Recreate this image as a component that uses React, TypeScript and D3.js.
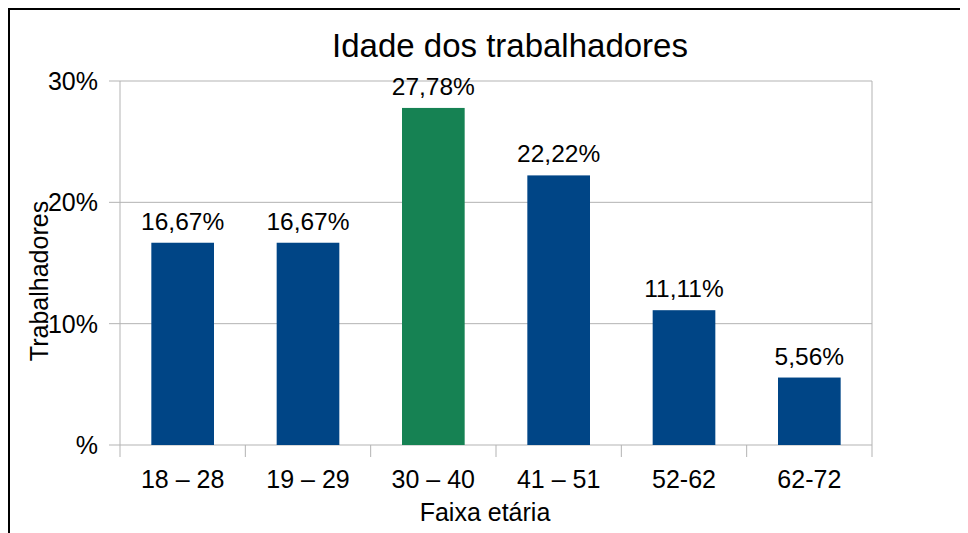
import React from "react";
import * as d3 from "d3";

const categories = ["18 – 28", "19 – 29", "30 – 40", "41 – 51", "52-62", "62-72"];
const values = [16.67, 16.67, 27.78, 22.22, 11.11, 5.56];
const labels = ["16,67%", "16,67%", "27,78%", "22,22%", "11,11%", "5,56%"];
const barColors = ["#004586", "#004586", "#168253", "#004586", "#004586", "#004586"];
const yTicks = [0, 10, 20, 30];
const yTickLabels = ["%", "10%", "20%", "30%"];

const W = 960;
const H = 525;
const plot = { left: 112, right: 864, top: 73, bottom: 437 };
const FONT = "'Liberation Sans', Arial, sans-serif";

export default function App() {
  const x = d3
    .scaleBand<string>()
    .domain(categories)
    .range([plot.left, plot.right])
    .paddingInner(0.5)
    .paddingOuter(0.25);
  const y = d3.scaleLinear().domain([0, 30]).range([plot.bottom, plot.top]);
  const step = x.step();
  const boundaries = d3.range(categories.length + 1).map((i) => plot.left + i * step);

  return (
    <svg width={W} height={H} style={{ display: "block", overflow: "hidden" }} fontFamily={FONT}>
      <rect x={0} y={0} width={W} height={H} fill="#fff" />
      <rect x={1} y={1} width={W + 20} height={H + 20} fill="none" stroke="#000" strokeWidth={2} />
      {/* grid */}
      {yTicks.map((t) => (
        <line key={"g" + t} x1={plot.left - 11} x2={plot.right} y1={y(t)} y2={y(t)} stroke="#b3b3b3" strokeWidth={1} />
      ))}
      <line x1={plot.left} x2={plot.left} y1={plot.top} y2={plot.bottom} stroke="#b3b3b3" />
      <line x1={plot.right} x2={plot.right} y1={plot.top} y2={plot.bottom} stroke="#b3b3b3" />
      {boundaries.map((b, i) => (
        <line key={"b" + i} x1={b} x2={b} y1={plot.bottom} y2={plot.bottom + 12} stroke="#b3b3b3" />
      ))}
      {/* bars */}
      {categories.map((c, i) => (
        <rect
          key={c}
          x={x(c)}
          y={y(values[i])}
          width={x.bandwidth()}
          height={plot.bottom - y(values[i])}
          fill={barColors[i]}
        />
      ))}
      {/* data labels */}
      {categories.map((c, i) => (
        <text key={"l" + c} x={(x(c) ?? 0) + x.bandwidth() / 2} y={y(values[i]) - 13} textAnchor="middle" fontSize={24.5} fill="#000">
          {labels[i]}
        </text>
      ))}
      {/* y tick labels */}
      {yTicks.map((t, i) => (
        <text key={"yt" + t} x={90} y={y(t) + 9} textAnchor="end" fontSize={25} fill="#000">
          {yTickLabels[i]}
        </text>
      ))}
      {/* x labels */}
      {categories.map((c) => (
        <text key={"xt" + c} x={(x(c) ?? 0) + x.bandwidth() / 2} y={480} textAnchor="middle" fontSize={25} fill="#000">
          {c}
        </text>
      ))}
      {/* titles */}
      <text x={502} y={49} textAnchor="middle" fontSize={33} fill="#000">
        Idade dos trabalhadores
      </text>
      <text x={477} y={513} textAnchor="middle" fontSize={25} fill="#000">
        Faixa etária
      </text>
      <text transform="translate(40,273) rotate(-90)" textAnchor="middle" fontSize={25} fill="#000">
        Trabalhadores
      </text>
    </svg>
  );
}
